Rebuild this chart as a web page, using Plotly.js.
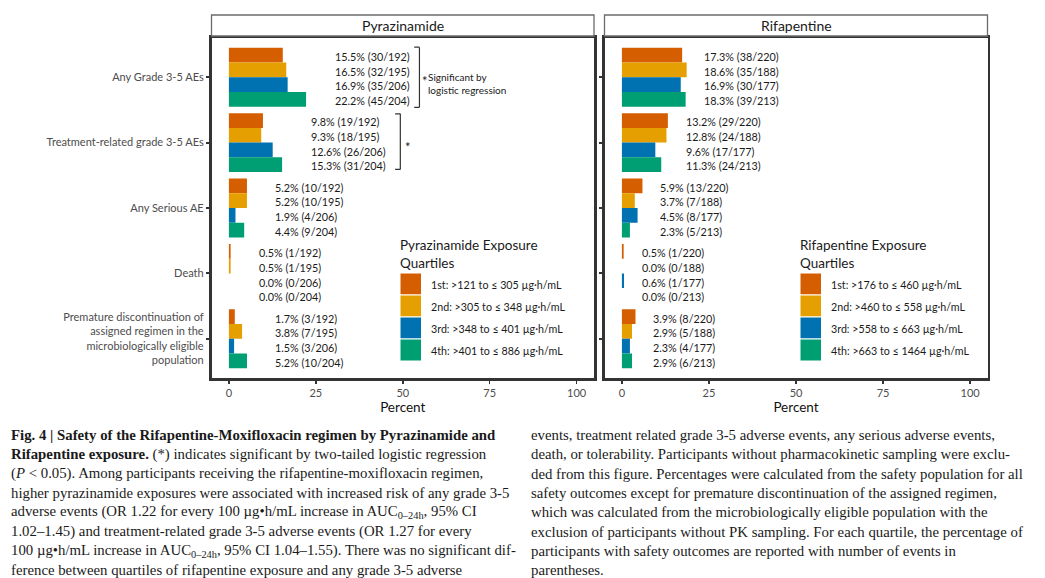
<!DOCTYPE html>
<html>
<head>
<meta charset="utf-8">
<script src="https://cdn.plot.ly/plotly-3.0.1.min.js"></script>
<style>
  html, body { margin: 0; padding: 0; background: #ffffff; }
  #chart { width: 1045px; height: 578px; }
</style>
</head>
<body>
<div id="chart"></div>
<script>
// ---------------- DATA ----------------
const categories = [
  "Any Grade 3-5 AEs",
  "Treatment-related grade 3-5 AEs",
  "Any Serious AE",
  "Death",
  "Premature discontinuation of assigned regimen in the microbiologically eligible population"
];
const tickLabels = [
  "Any Grade 3-5 AEs",
  "Treatment-related grade 3-5 AEs",
  "Any Serious AE",
  "Death",
  "Premature discontinuation of<br>assigned regimen in the<br>microbiologically eligible<br>population"
];
const quartileNames = ["1st", "2nd", "3rd", "4th"];

// Pyrazinamide exposure quartiles: percent, events, denominators
const pzaQ1Pct = [15.5, 9.8, 5.2, 0.5, 1.7];
const pzaQ2Pct = [16.5, 9.3, 5.2, 0.5, 3.8];
const pzaQ3Pct = [16.9, 12.6, 1.9, 0.0, 1.5];
const pzaQ4Pct = [22.2, 15.3, 4.4, 0.0, 5.2];
const pzaQ1Events = [30, 19, 10, 1, 3];
const pzaQ2Events = [32, 18, 10, 1, 7];
const pzaQ3Events = [35, 26, 4, 0, 3];
const pzaQ4Events = [45, 31, 9, 0, 10];
const pzaN = [192, 195, 206, 204];
const pzaLegendLabels = [
  "1st: >121 to \u2264 305 \u00b5g\u00b7h/mL",
  "2nd: >305 to \u2264 348 \u00b5g\u00b7h/mL",
  "3rd: >348 to \u2264 401 \u00b5g\u00b7h/mL",
  "4th: >401 to \u2264 886 \u00b5g\u00b7h/mL"
];

// Rifapentine exposure quartiles
const rpfQ1Pct = [17.3, 13.2, 5.9, 0.5, 3.9];
const rpfQ2Pct = [18.6, 12.8, 3.7, 0.0, 2.9];
const rpfQ3Pct = [16.9, 9.6, 4.5, 0.6, 2.3];
const rpfQ4Pct = [18.3, 11.3, 2.3, 0.0, 2.9];
const rpfQ1Events = [38, 29, 13, 1, 8];
const rpfQ2Events = [35, 24, 7, 0, 5];
const rpfQ3Events = [30, 17, 8, 1, 4];
const rpfQ4Events = [39, 24, 5, 0, 6];
const rpfN = [220, 188, 177, 213];
const rpfLegendLabels = [
  "1st: >176 to \u2264 460 \u00b5g\u00b7h/mL",
  "2nd: >460 to \u2264 558 \u00b5g\u00b7h/mL",
  "3rd: >558 to \u2264 663 \u00b5g\u00b7h/mL",
  "4th: >663 to \u2264 1464 \u00b5g\u00b7h/mL"
];

const xTicks = [0, 25, 50, 75, 100];

const captionLeft = [
  "<b>Fig. 4 | Safety of the Rifapentine-Moxifloxacin regimen by Pyrazinamide and</b>",
  "<b>Rifapentine exposure.</b> (*) indicates significant by two-tailed logistic regression",
  "(<i>P</i> &lt; 0.05). Among participants receiving the rifapentine-moxifloxacin regimen,",
  "higher pyrazinamide exposures were associated with increased risk of any grade 3-5",
  "adverse events (OR 1.22 for every 100 \u00b5g\u2022h/mL increase in AUC<sub>0\u201324h</sub>, 95% CI",
  "1.02\u20131.45) and treatment-related grade 3-5 adverse events (OR 1.27 for every",
  "100 \u00b5g\u2022h/mL increase in AUC<sub>0\u201324h</sub>, 95% CI 1.04\u20131.55). There was no significant dif-",
  "ference between quartiles of rifapentine exposure and any grade 3-5 adverse"
];
const captionRight = [
  "events, treatment related grade 3-5 adverse events, any serious adverse events,",
  "death, or tolerability. Participants without pharmacokinetic sampling were exclu-",
  "ded from this figure. Percentages were calculated from the safety population for all",
  "safety outcomes except for premature discontinuation of the assigned regimen,",
  "which was calculated from the microbiologically eligible population with the",
  "exclusion of participants without PK sampling. For each quartile, the percentage of",
  "participants with safety outcomes are reported with number of events in",
  "parentheses."
];

// ---------------- STYLE ----------------
const colors = ["#D55E00", "#E69F00", "#0072B2", "#009E73"];
const W = 1045, H = 578;
const FONT = "Lato, 'Open Sans', sans-serif";
const px = v => v / W;
const py = v => 1 - v / H;
const panelTop = 38, panelBottom = 378;
const leftPanel = [211.5, 594];
const rightPanel = [604.5, 987.5];
const barGap = 0.1;

const panels = [
  { name: "Pyrazinamide", xa: "x", ya: "y", pct: [pzaQ1Pct, pzaQ2Pct, pzaQ3Pct, pzaQ4Pct],
    ev: [pzaQ1Events, pzaQ2Events, pzaQ3Events, pzaQ4Events], n: pzaN,
    legendTitle: "Pyrazinamide Exposure<br>Quartiles", legendLabels: pzaLegendLabels,
    box: leftPanel, labelPad: 7.6, legendX: 400 },
  { name: "Rifapentine", xa: "x2", ya: "y2", pct: [rpfQ1Pct, rpfQ2Pct, rpfQ3Pct, rpfQ4Pct],
    ev: [rpfQ1Events, rpfQ2Events, rpfQ3Events, rpfQ4Events], n: rpfN,
    legendTitle: "Rifapentine Exposure<br>Quartiles", legendLabels: rpfLegendLabels,
    box: rightPanel, labelPad: 4.5, legendX: 800 }
];

const traces = [];
const annotations = [];
const shapes = [];

panels.forEach((p, pi) => {
  p.pct.forEach((vals, q) => {
    traces.push({
      type: "bar", orientation: "h",
      x: vals, y: categories,
      xaxis: p.xa, yaxis: p.ya,
      name: quartileNames[q] + " (" + p.name + ")",
      marker: { color: colors[q], line: { width: 0 } },
      showlegend: false,
      hoverinfo: "x+y"
    });
  });
  // value labels
  const bw = (1 - barGap) / 4;
  categories.forEach((c, ci) => {
    const gmax = Math.max(...p.pct.map(a => a[ci]));
    p.pct.forEach((vals, q) => {
      annotations.push({
        xref: p.xa, yref: p.ya,
        x: gmax + p.labelPad, y: ci + (q - 1.5) * bw + 0.02,
        text: vals[ci].toFixed(1) + "% (" + p.ev[q][ci] + "/" + p.n[q] + ")",
        showarrow: false, xanchor: "left", yanchor: "middle",
        font: { family: FONT, size: 10.8, color: "#1a1a1a" }
      });
    });
  });
  // strip header
  shapes.push({
    type: "rect", xref: "paper", yref: "paper",
    x0: px(p.box[0]), x1: px(p.box[1]), y0: py(36), y1: py(15),
    line: { color: "#6b6b6b", width: 1.3 }, fillcolor: "#ffffff", layer: "above"
  });
  annotations.push({
    xref: "paper", yref: "paper",
    x: px((p.box[0] + p.box[1]) / 2), y: py(25.5),
    text: p.name, showarrow: false, xanchor: "center", yanchor: "middle",
    font: { family: FONT, size: 14, color: "#1a1a1a" }
  });
  // legend (drawn inside panel)
  annotations.push({
    xref: "paper", yref: "paper",
    x: px(p.legendX - 2), y: py(253.5),
    text: p.legendTitle, showarrow: false, xanchor: "left", yanchor: "middle", align: "left",
    font: { family: FONT, size: 13.5, color: "#1a1a1a" }
  });
  const keyTop = 273, keyH = 22, keyW = 21.5;
  colors.forEach((col, q) => {
    shapes.push({
      type: "rect", xref: "paper", yref: "paper",
      x0: px(p.legendX), x1: px(p.legendX + keyW),
      y0: py(keyTop + q * keyH + keyH), y1: py(keyTop + q * keyH),
      fillcolor: col, line: { color: "#ffffff", width: 1 }, layer: "above"
    });
    annotations.push({
      xref: "paper", yref: "paper",
      x: px(p.legendX + keyW + 7.5), y: py(keyTop + q * keyH + keyH / 2),
      text: p.legendLabels[q], showarrow: false, xanchor: "left", yanchor: "middle",
      font: { family: FONT, size: 10.7, color: "#1a1a1a" }
    });
  });
});

// significance brackets (Pyrazinamide panel)
function bracket(xv, y0, y1, arm) {
  const st = { color: "#333333", width: 1.2 };
  shapes.push({ type: "line", xref: "x", yref: "y", x0: xv, x1: xv, y0: y0, y1: y1, line: st });
  shapes.push({ type: "line", xref: "x", yref: "y", x0: xv - arm, x1: xv, y0: y0, y1: y0, line: st });
  shapes.push({ type: "line", xref: "x", yref: "y", x0: xv - arm, x1: xv, y0: y1, y1: y1, line: st });
}
bracket(54.8, -0.46, 0.46, 1.5);
bracket(49.3, 0.56, 1.41, 1.5);
annotations.push({ xref: "x", yref: "y", x: 55.0, y: 0.06, text: "*", showarrow: false,
  xanchor: "left", yanchor: "middle", font: { family: FONT, size: 13, color: "#1a1a1a" } });
annotations.push({ xref: "x", yref: "y", x: 56.7, y: 0.1, text: "Significant by<br>logistic regression",
  showarrow: false, xanchor: "left", yanchor: "middle", align: "left",
  font: { family: FONT, size: 10, color: "#1a1a1a" } });
annotations.push({ xref: "x", yref: "y", x: 50.2, y: 1.06, text: "*", showarrow: false,
  xanchor: "left", yanchor: "middle", font: { family: FONT, size: 13, color: "#1a1a1a" } });

// caption
const capY0 = 435, capStep = 19.3;
captionLeft.forEach((t, i) => annotations.push({
  xref: "paper", yref: "paper", x: px(9), y: py(capY0 + i * capStep),
  text: t, showarrow: false, xanchor: "left", yanchor: "middle", align: "left",
  font: { family: "'Liberation Serif', serif", size: 14.8, color: "#1a1a1a" }
}));
captionRight.forEach((t, i) => annotations.push({
  xref: "paper", yref: "paper", x: px(529), y: py(capY0 + i * capStep),
  text: t, showarrow: false, xanchor: "left", yanchor: "middle", align: "left",
  font: { family: "'Liberation Serif', serif", size: 14.8, color: "#1a1a1a" }
}));

const xAxisBase = {
  range: [-5, 105], tickmode: "array", tickvals: xTicks, ticktext: xTicks.map(String),
  ticks: "outside", ticklen: 3, tickwidth: 1.5, tickcolor: "#333333",
  tickfont: { family: FONT, size: 11, color: "#4d4d4d" },
  showline: true, mirror: true, linecolor: "#333333", linewidth: 2.6,
  showgrid: false, zeroline: false, fixedrange: true,
  title: { text: "Percent", font: { family: FONT, size: 13.5, color: "#111111" }, standoff: 2 }
};
const yAxisBase = {
  type: "category", categoryorder: "array", categoryarray: categories,
  range: [4.6, -0.6], tickmode: "array", tickvals: categories, ticktext: tickLabels,
  ticks: "outside", ticklen: 3, tickwidth: 2, tickcolor: "#333333",
  tickfont: { family: FONT, size: 11, color: "#4d4d4d" },
  showline: true, mirror: true, linecolor: "#333333", linewidth: 2.6,
  showgrid: false, zeroline: false, fixedrange: true
};

const layout = {
  width: W, height: H,
  margin: { l: 0, r: 0, t: 0, b: 0, pad: 0 },
  paper_bgcolor: "#ffffff", plot_bgcolor: "#ffffff",
  font: { family: FONT, color: "#1a1a1a" },
  barmode: "group", bargap: barGap, bargroupgap: 0,
  showlegend: false,
  xaxis: Object.assign({}, xAxisBase, { domain: [px(leftPanel[0]), px(leftPanel[1])], anchor: "y" }),
  xaxis2: Object.assign({}, xAxisBase, { domain: [px(rightPanel[0]), px(rightPanel[1])], anchor: "y2" }),
  yaxis: Object.assign({}, yAxisBase, { domain: [py(panelBottom), py(panelTop)], anchor: "x" }),
  yaxis2: Object.assign({}, yAxisBase, { domain: [py(panelBottom), py(panelTop)], anchor: "x2", showticklabels: false }),
  annotations: annotations,
  shapes: shapes
};

Plotly.newPlot("chart", traces, layout, { displayModeBar: false, staticPlot: true });
</script>
</body>
</html>
